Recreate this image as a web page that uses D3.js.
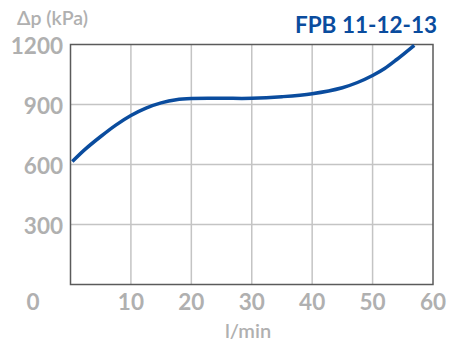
<!DOCTYPE html>
<html>
<head>
<meta charset="utf-8">
<script src="https://cdn.jsdelivr.net/npm/d3@7"></script>
<style>
  body { margin: 0; background: #fff; }
  text { font-family: Lato, "Open Sans", sans-serif; font-weight: 700; }
</style>
</head>
<body>
<svg id="chart" width="451" height="342"></svg>
<script>
// flow (l/min) vs pressure drop (kPa)
const flow = [0.3, 2.5, 5, 7.5, 10, 12.5, 15, 17.5, 20, 25, 30, 35, 40, 45, 47.5, 50, 52, 54, 56.9];
const dp = [615, 678, 740, 797, 845, 882, 908, 924, 930, 931, 931, 939, 954, 984, 1010, 1045, 1080, 1125, 1196];
const xTicks = [10, 20, 30, 40, 50, 60];
const yTicks = [300, 600, 900, 1200];
const title = 'FPB 11-12-13';

const MARGIN = { TOP: 44.5, RIGHT: 18, BOTTOM: 57.5, LEFT: 70.5 };
const W = 451, H = 342;
const GREY = '#b0b0b0';
const BLUE = '#0a4c9e';

const svg = d3.select('#chart');
const x = d3.scaleLinear().domain([0, 60]).range([MARGIN.LEFT, W - MARGIN.RIGHT]);
const y = d3.scaleLinear().domain([0, 1200]).range([H - MARGIN.BOTTOM, MARGIN.TOP]);

// grid
const grid = svg.append('g').attr('class', 'grid');
grid.selectAll('line.v')
  .data(xTicks.slice(0, -1))
  .enter()
  .append('line')
  .attr('x1', d => x(d)).attr('x2', d => x(d))
  .attr('y1', y(0)).attr('y2', y(1200))
  .attr('stroke', '#c4c4c4').attr('stroke-width', 1.5);
grid.selectAll('line.h')
  .data(yTicks.slice(0, -1))
  .enter()
  .append('line')
  .attr('x1', x(0)).attr('x2', x(60))
  .attr('y1', d => y(d)).attr('y2', d => y(d))
  .attr('stroke', '#c4c4c4').attr('stroke-width', 1.5);

// frame
svg.append('rect')
  .attr('x', x(0)).attr('y', y(1200))
  .attr('width', x(60) - x(0)).attr('height', y(0) - y(1200))
  .attr('fill', 'none').attr('stroke', '#5a5a5a').attr('stroke-width', 1.5);

// curve
const line = d3.line()
  .x((d, i) => x(flow[i]))
  .y(d => y(d))
  .curve(d3.curveCatmullRom.alpha(0.5));
svg.append('path')
  .attr('d', line(dp))
  .attr('fill', 'none')
  .attr('stroke', BLUE)
  .attr('stroke-width', 3.5);

// tick labels
svg.append('g')
  .selectAll('text')
  .data(xTicks)
  .enter()
  .append('text')
  .attr('x', d => x(d))
  .attr('y', 310)
  .attr('text-anchor', 'middle')
  .attr('fill', GREY)
  .attr('font-size', 22.5)
  .text(d => d);

svg.append('text')
  .attr('x', 33).attr('y', 310)
  .attr('text-anchor', 'middle')
  .attr('fill', GREY).attr('font-size', 22.5)
  .text('0');

svg.append('g')
  .selectAll('text')
  .data(yTicks)
  .enter()
  .append('text')
  .attr('x', 63)
  .attr('y', d => y(d))
  .attr('dy', '0.4em')
  .attr('text-anchor', 'end')
  .attr('fill', GREY)
  .attr('font-size', 22.5)
  .text(d => d);

// axis titles
svg.append('text')
  .attr('x', 17).attr('y', 25)
  .attr('fill', GREY).attr('font-size', 19.5)
  .style('font-weight', 600)
  .text('Δp (kPa)');

svg.append('text')
  .attr('x', 248).attr('y', 338)
  .attr('text-anchor', 'middle')
  .attr('fill', GREY).attr('font-size', 20)
  .style('font-weight', 600)
  .text('l/min');

svg.append('text')
  .attr('x', 437).attr('y', 33)
  .attr('text-anchor', 'end')
  .attr('fill', BLUE).attr('font-size', 22.5)
  .text(title);
</script>
</body>
</html>
